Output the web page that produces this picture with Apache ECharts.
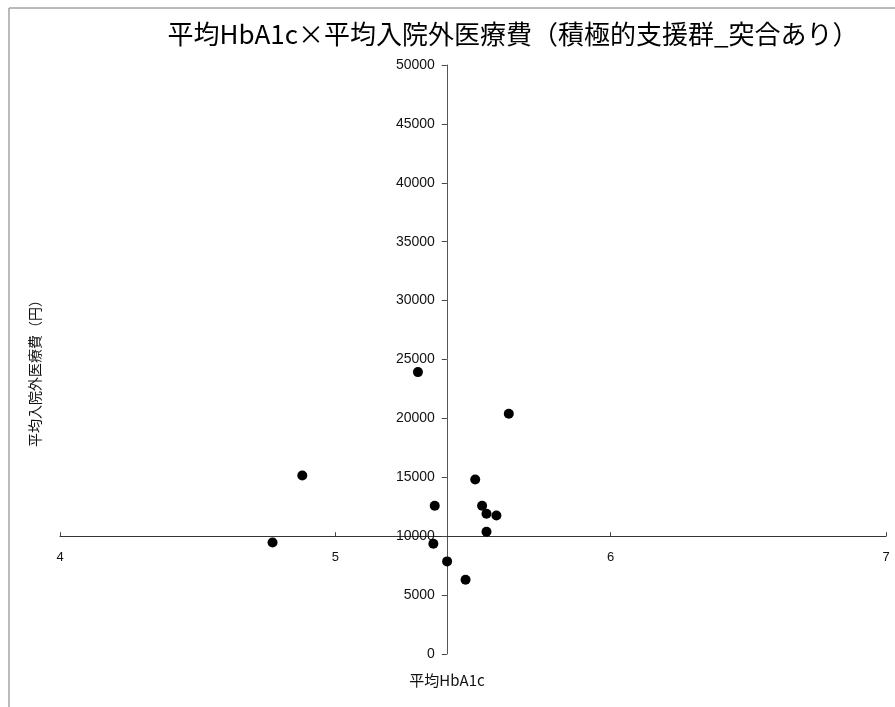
<!DOCTYPE html>
<html>
<head>
<meta charset="utf-8">
<script src="https://cdn.jsdelivr.net/npm/echarts@6/dist/echarts.min.js"></script>
<style>
html,body{margin:0;padding:0;background:#fff;}
#chart{width:895px;height:707px;}
</style>
</head>
<body>
<div id="chart"></div>
<script>
// ---- data ----
const titleText = '平均HbA1c×平均入院外医療費（積極的支援群_突合あり）';
const xAxisName = '平均HbA1c';
const yAxisName = '平均入院外医療費（円）';
const hba1c = [4.880, 4.772, 5.300, 5.361, 5.356, 5.406, 5.473, 5.508, 5.533, 5.549, 5.585, 5.549, 5.630];
const cost  = [15150, 9470, 23930, 12590, 9360, 7860, 6300, 14810, 12580, 11900, 11760, 10380, 20390];
const xMin = 4, xMax = 7, xStep = 1;
const yMin = 0, yMax = 50000, yStep = 5000;
const crossX = 5.405;   // y axis crosses the x axis here
const crossY = 10000;   // x axis crosses the y axis here

const points = hba1c.map((v, i) => [v, cost[i]]);
const font = '"Liberation Sans", Arial, sans-serif';
const cjk = '"Noto Sans CJK JP", sans-serif';

const chart = echarts.init(document.getElementById('chart'));
const grid = {left: 60, right: 9, top: 65, bottom: 53};

function buildOption(xOffset, yOffset) {
  return {
    animation: false,
    backgroundColor: '#fff',
    grid: grid,
    xAxis: {
      type: 'value', min: xMin, max: xMax, interval: xStep,
      position: 'bottom', offset: xOffset,
      axisLine: {onZero: false, lineStyle: {color: '#333', width: 1}},
      axisTick: {inside: true, length: 4, lineStyle: {color: '#444'}},
      axisLabel: {color: '#111', fontSize: 13, fontFamily: font, margin: 15,
                  formatter: v => String(v)},
      splitLine: {show: false}
    },
    yAxis: {
      type: 'value', min: yMin, max: yMax, interval: yStep,
      position: 'left', offset: yOffset,
      axisLine: {onZero: false, lineStyle: {color: '#555', width: 1}},
      axisTick: {show: true, length: 5, lineStyle: {color: '#444'}},
      axisLabel: {color: '#111', fontSize: 14, fontFamily: font, margin: 12,
                  formatter: v => String(v)},
      splitLine: {show: false}
    },
    graphic: [
      {type: 'line', shape: {x1: 9, y1: 8, x2: 895, y2: 8}, style: {stroke: '#777', lineWidth: 1}, silent: true},
      {type: 'line', shape: {x1: 9, y1: 8, x2: 9, y2: 707}, style: {stroke: '#777', lineWidth: 1}, silent: true},
      {type: 'text', x: 513, y: 34, style: {text: titleText, font: '26px ' + cjk, fill: '#000', textAlign: 'center', textVerticalAlign: 'middle'}},
      {type: 'text', x: 447, y: 680, style: {text: xAxisName, font: '15px ' + cjk, fill: '#111', textAlign: 'center', textVerticalAlign: 'middle'}},
      {type: 'text', x: 35, y: 370, rotation: Math.PI / 2, style: {text: yAxisName, font: '14px ' + cjk, fill: '#111', textAlign: 'center', textVerticalAlign: 'middle'}}
    ],
    series: [{
      type: 'scatter',
      data: points,
      symbol: 'circle',
      symbolSize: 10,
      itemStyle: {color: '#000', opacity: 1}
    }]
  };
}

chart.setOption(buildOption(0, 0));
// place the crossing axes through the library's own scales
const crossPx = chart.convertToPixel({gridIndex: 0}, [crossX, crossY]);
const h = 707;
const xOffset = -((h - grid.bottom) - crossPx[1]);
const yOffset = -(crossPx[0] - grid.left);
chart.setOption(buildOption(xOffset, yOffset));
</script>
</body>
</html>
